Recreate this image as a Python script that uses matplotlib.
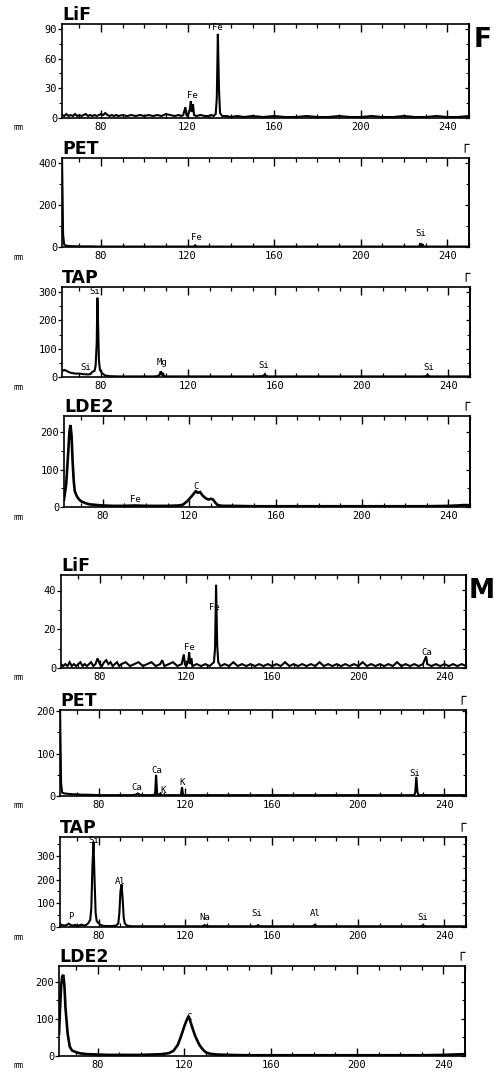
import matplotlib
matplotlib.use("Agg")
import matplotlib.pyplot as plt
from matplotlib.ticker import MultipleLocator

plt.rcParams['font.family'] = ['DejaVu Sans Mono']

# ---------------- data (x in mm, counts) ----------------
lif_f = [(62,3),(63,2),(64,4),(65,2),(66,3),(67,2),(68,4),(69,2),(70,3),(71,2),(72,3),(73,4),
         (74,2),(75,3),(76,2),(77,3),(78,2),(79,3),(80,4),(81,3),(82,5),(83,3),(84,2),(85,3),
         (86,2),(87,3),(88,2),(90,3),(92,2),(94,3),(96,2),(98,3),(100,2),(102,3),(104,2),(106,3),
         (108,2),(110,4),(112,3),(114,2),(116,3),(117,2),(118,3),(119,11),(119.5,3),(120,2),
         (121,8),(121.5,17),(122,6),(122.5,14),(123,3),(124,2),(126,3),(128,2),(130,2),(131,3),
         (132,2),(133,4),(133.5,20),(134,85),(134.5,30),(135,5),(136,2),(138,2),(140,1),(143,2),
         (146,1),(150,2),(155,1),(160,2),(165,1),(170,1),(175,2),(180,1),(185,1),(190,2),(195,1),
         (200,1),(205,2),(210,1),(215,1),(220,2),(225,1),(230,1),(235,2),(240,1),(245,1),(250,2)]

pet_f = [(62,440),(62.5,60),(63,12),(64,6),(66,4),(70,3),(75,3),(80,2),(90,2),(100,2),(110,2),
         (120,2),(123,2),(123.5,8),(124,3),(124.5,2),(125,2),(130,2),(140,2),(150,2),(160,2),
         (170,2),(180,2),(190,2),(200,2),(210,2),(220,2),(226,2),(227,3),(227.5,18),(228,4),
         (228.5,14),(229,3),(230,2),(240,2),(250,2)]

tap_f = [(62,20),(63,25),(64,22),(65,18),(66,15),(68,12),(70,12),(72,10),(74,9),(75,10),(76,18),
         (77,22),(77.5,40),(78,120),(78.3,280),(78.6,200),(79,60),(79.5,25),(80,18),(81,10),(82,5),
         (84,3),(88,2),(92,2),(96,2),(100,2),(104,2),(106,3),(107,8),(107.5,20),(108,6),(108.5,15),
         (109,3),(110,2),(115,2),(120,2),(130,2),(140,2),(150,2),(154,3),(155,5),(155.5,10),(156,4),
         (157,2),(160,2),(170,2),(180,2),(190,2),(200,2),(210,2),(220,2),(228,2),(230,3),(230.5,8),
         (231,3),(232,2),(240,2),(250,2)]

lde2_f = [(62,20),(63,60),(64,150),(64.5,200),(65,219),(65.5,190),(66,120),(66.5,70),(67,42),
          (68,28),(69,20),(70,15),(72,10),(74,7),(76,6),(78,5),(80,4),(85,3),(90,3),(95,4),(100,3),
          (105,3),(110,3),(115,4),(117,6),(119,15),(121,28),(122,35),(123,42),(124,38),(125,40),
          (126,32),(127,26),(128,22),(129,20),(130,22),(131,20),(132,12),(133,6),(134,4),(136,3),
          (140,3),(150,2),(160,2),(170,2),(180,2),(190,2),(200,2),(210,2),(220,2),(230,2),(240,3),
          (244,4),(247,5),(250,5)]

lif_m = [(62,2),(63,1),(64,2),(65,1),(66,3),(67,1),(68,2),(69,1),(70,2),(71,3),(72,1),(73,2),(74,1),
         (75,2),(76,3),(77,1),(78,2),(79,5),(80,2),(81,1),(82,3),(83,4),(84,2),(85,3),(86,1),(87,2),
         (88,3),(89,1),(90,2),(92,3),(94,1),(96,2),(98,3),(100,1),(102,2),(104,3),(106,1),(108,2),
         (109,4),(110,1),(112,2),(114,3),(116,1),(118,2),(119,7),(119.5,2),(120,1),(121,3),(121.5,8),
         (122,2),(122.5,5),(123,1),(125,2),(127,1),(129,2),(131,1),(133,3),(133.5,10),(134,43),
         (134.5,12),(135,3),(136,1),(138,2),(140,1),(142,3),(144,1),(146,2),(148,1),(150,2),(152,1),
         (154,2),(156,1),(158,2),(160,1),(162,2),(164,1),(166,3),(168,1),(170,2),(172,1),(174,2),
         (176,1),(178,2),(180,1),(182,3),(184,1),(186,2),(188,1),(190,2),(192,1),(194,2),(196,1),
         (198,2),(200,1),(202,3),(204,1),(206,2),(208,1),(210,2),(212,1),(214,2),(216,1),(218,3),
         (220,1),(222,2),(224,1),(226,2),(228,1),(230,2),(231.5,6),(232,2),(234,1),(236,2),(238,1),
         (240,2),(242,1),(244,2),(246,1),(248,2),(250,1)]

pet_m = [(62,215),(62.5,30),(63,8),(64,6),(66,5),(68,4),(70,4),(72,3),(75,3),(80,2),(85,2),(90,2),
         (95,2),(97,3),(98,6),(99,3),(100,2),(104,2),(106,3),(106.5,50),(107,4),(108,3),(108.5,6),
         (109,2),(112,2),(118,2),(118.5,21),(119,2),(125,2),(140,2),(160,2),(180,2),(200,2),(220,2),
         (226,2),(226.5,8),(227,45),(227.5,10),(228,2),(240,2),(250,2)]

tap_m = [(62,12),(63,8),(64,6),(65,8),(66,14),(67,8),(68,6),(69,9),(70,5),(71,7),(72,10),(73,6),
         (74,8),(75,15),(76,30),(76.5,80),(77,250),(77.5,360),(78,200),(78.5,60),(79,25),(80,15),
         (81,8),(82,5),(84,4),(86,4),(88,6),(89,15),(89.5,60),(90,150),(90.5,180),(91,120),(91.5,40),
         (92,15),(93,6),(95,3),(100,3),(110,3),(120,3),(128,3),(129,8),(130,3),(140,3),(150,3),
         (153,3),(153.7,8),(154.5,3),(170,3),(179,3),(180,9),(181,3),(200,3),(229,3),(230,7),(231,3),
         (250,3)]

lde2_m = [(62,60),(62.5,130),(63,190),(63.5,215),(64,219),(64.5,190),(65,130),(66,60),(67,25),
          (68,15),(70,10),(72,7),(75,5),(80,4),(85,3),(90,3),(95,3),(100,3),(105,4),(110,5),(113,8),
          (115,14),(117,30),(118,45),(119,62),(120,80),(121,95),(122,108),(122.5,100),(123,90),
          (124,72),(125,55),(126,42),(127,30),(128,22),(129,15),(130,10),(132,6),(135,4),(140,3),
          (150,2),(160,2),(170,2),(180,2),(190,2),(200,2),(210,2),(220,2),(230,2),(240,3),(245,4),
          (250,5)]

# peak labels: (x, y, text)
lif_f_lab = [(122, 23, 'Fe'), (134, 91, 'Fe')]
pet_f_lab = [(124, 43, 'Fe'), (227.5, 62, 'Si')]
tap_f_lab = [(77, 303, 'Si'), (73, 32, 'Si'), (108, 50, 'Mg'), (155, 39, 'Si'), (231, 32, 'Si')]
lde2_f_lab = [(95, 19, 'Fe'), (123, 56, 'C')]
lif_m_lab = [(133, 31, 'Fe'), (121.5, 10.5, 'Fe'), (232, 8, 'Ca')]
pet_m_lab = [(107, 60, 'Ca'), (97.5, 19, 'Ca'), (109.5, 12, 'K'), (118.7, 33, 'K'), (226.5, 53, 'Si')]
tap_m_lab = [(77.7, 367, 'Si'), (90, 190, 'Al'), (67, 46, 'P'), (129, 38, 'Na'), (153, 55, 'Si'),
             (180, 55, 'Al'), (230, 38, 'Si')]
lde2_m_lab = [(122, 105, 'C')]

xlim = (62, 250)

# ---------------- layout ----------------
W, H = 501, 1075
fig = plt.figure(figsize=(W / 100, H / 100), dpi=100)

panels = [
    ('LiF', lif_f, lif_f_lab, (62, 24, 469, 118), (0, 95), 30, 15, False, 1.5),
    ('PET', pet_f, pet_f_lab, (62, 158, 469, 247), (0, 424), 200, 100, True, 1.5),
    ('TAP', tap_f, tap_f_lab, (62, 287, 470, 377), (0, 318), 100, 50, True, 1.5),
    ('LDE2', lde2_f, lde2_f_lab, (64, 416, 470, 507), (0, 243), 100, 50, True, 1.9),
    ('LiF', lif_m, lif_m_lab, (61, 575, 466, 668), (0, 48), 20, 10, False, 1.5),
    ('PET', pet_m, pet_m_lab, (60, 710, 466, 796), (0, 203), 100, 50, True, 1.5),
    ('TAP', tap_m, tap_m_lab, (60, 837, 466, 927), (0, 380), 100, 50, True, 1.5),
    ('LDE2', lde2_m, lde2_m_lab, (59, 966, 465, 1056), (0, 243), 100, 50, True, 1.9),
]

for name, data, labs, (l, t, r, b), ylim, maj, mnr, corner, lw in panels:
    ax = fig.add_axes([l / W, 1 - b / H, (r - l) / W, (b - t) / H])
    xs = [p[0] for p in data]
    ys = [p[1] for p in data]
    ax.plot(xs, ys, color='black', lw=lw, solid_joinstyle='miter', clip_on=True)
    ax.set_xlim(*xlim)
    ax.set_ylim(*ylim)
    for s in ax.spines.values():
        s.set_linewidth(1.2)
    ax.xaxis.set_major_locator(MultipleLocator(40))
    ax.xaxis.set_minor_locator(MultipleLocator(10))
    ax.yaxis.set_major_locator(MultipleLocator(maj))
    ax.yaxis.set_minor_locator(MultipleLocator(mnr))
    ax.tick_params(axis='x', which='major', direction='in', top=True, bottom=True,
                   length=6, width=1, labelsize=7.5, pad=3)
    ax.tick_params(axis='x', which='minor', direction='in', top=True, bottom=True,
                   length=3, width=0.9)
    ax.tick_params(axis='y', which='major', direction='out', left=True, right=False,
                   length=3, width=0.9, labelsize=7.5, pad=0.5)
    ax.tick_params(axis='y', which='minor', direction='out', left=True, right=False,
                   length=2, width=0.8)
    sec = ax.secondary_yaxis('right')
    sec.yaxis.set_major_locator(MultipleLocator(maj))
    sec.yaxis.set_minor_locator(MultipleLocator(mnr))
    sec.tick_params(which='major', direction='in', length=3, width=0.9, labelright=False)
    sec.tick_params(which='minor', direction='in', length=2, width=0.8)
    sec.spines['right'].set_linewidth(1.2)

    for x, y, txt in labs:
        ax.text(x, y, txt, ha='center', va='center', fontsize=6.5)

    ax.text(0.0, 1.0, name, transform=ax.transAxes, ha='left', va='bottom',
            fontsize=12.5, fontweight='bold', family='DejaVu Sans')
    fig.text(14 / W, 1 - (b + 10) / H, 'mm', fontsize=6, va='center', ha='left')
    if corner:
        fig.text(r / W, 1 - (t - 6) / H, '\u250c', fontsize=10, ha='right', va='bottom',
                 family='DejaVu Sans', fontweight='bold')

fig.text(474 / W, 1 - 47 / H, 'F', fontsize=19, fontweight='bold', family='DejaVu Sans',
         ha='left', va='baseline')
fig.text(469 / W, 1 - 598 / H, 'M', fontsize=19, fontweight='bold', family='DejaVu Sans',
         ha='left', va='baseline')

fig.savefig('out.png', dpi=100, facecolor='white')
